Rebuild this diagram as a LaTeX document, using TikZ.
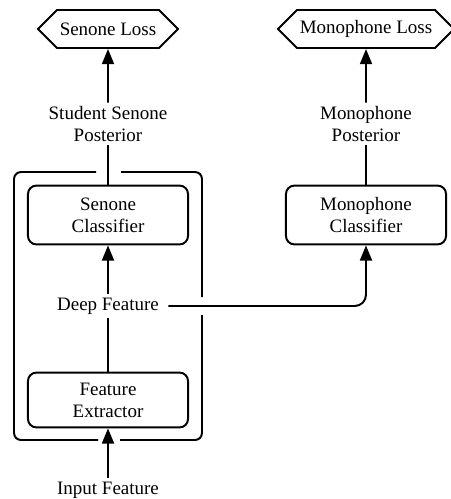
\documentclass[tikz,border=0pt]{standalone}
\usepackage{fontspec}
\setmainfont{Liberation Serif}
\usetikzlibrary{arrows.meta,shapes.symbols}
\begin{document}
\begin{tikzpicture}[x=0.025cm, y=-0.025cm,
  line width=1.4pt,
  font=\rmfamily\fontsize{13.5}{15.5}\selectfont,
  lossbox/.style={signal, signal to=west and east, draw,
      inner xsep=2pt, minimum height=0.95cm},
  clsbox/.style={rectangle, draw, rounded corners=6pt,
      text width=3.6cm, align=center, minimum width=4cm,
      minimum height=1.47cm},
  lbl/.style={align=center, inner sep=2pt},
  arr/.style={-{Triangle[length=3.8mm,width=3mm]}}]

\useasboundingbox (0,0) rectangle (450,499);

\node[lossbox] (sloss) at (108, 29) {Senone Loss};
\node[lossbox] (mloss) at (366, 29) {Monophone Loss};

\node[lbl] (spost) at (108, 124) {Student Senone\\Posterior};
\node[lbl] (mpost) at (366, 124) {Monophone\\Posterior};

\node[clsbox] (scls) at (108, 215) {Senone\\Classifier};
\node[clsbox] (mcls) at (366, 215) {Monophone\\Classifier};

\node[lbl, inner xsep=6pt] (deep) at (108, 306) {Deep Feature};

\node[clsbox, minimum height=1.37cm] (fext) at (108, 400) {Feature\\Extractor};

\node[lbl] (input) at (108, 490) {Input Feature};

\draw[arr] (spost) -- (sloss);
\draw[arr] (mpost) -- (mloss);
\draw (scls) -- (spost);
\draw (mcls) -- (mpost);
\draw[arr] (deep) -- (scls);
\draw (fext) -- (deep);
\draw[arr] (input) -- (fext);
\draw[arr, rounded corners=8pt] (deep.east) -| (mcls.south);

% wrapper round the senone network
\draw[rounded corners=5pt] (96,172) -- (14,172) -- (14,440) -- (98,440);
\draw[rounded corners=5pt] (120,440) -- (202,440) -- (202,315);
\draw[rounded corners=5pt] (202,297) -- (202,172) -- (121,172);

\end{tikzpicture}
\end{document}
